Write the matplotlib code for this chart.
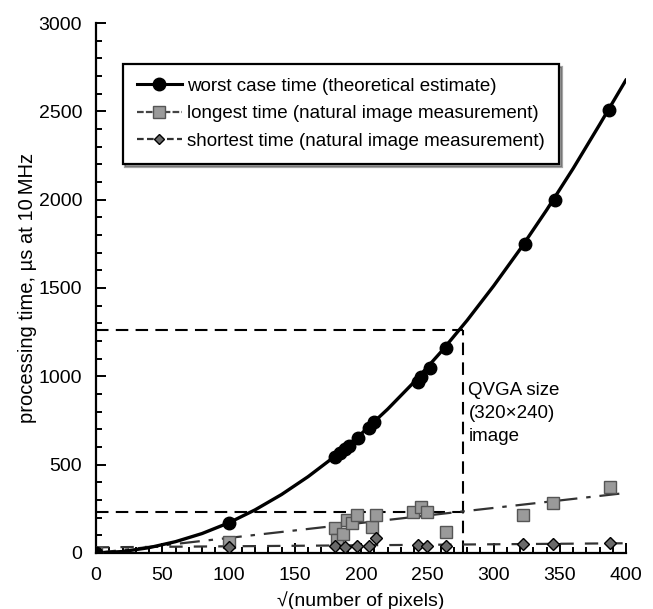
import matplotlib
matplotlib.use("Agg")
import matplotlib.pyplot as plt
from matplotlib.ticker import MultipleLocator

plt.rcParams['font.family'] = ['Liberation Sans', 'DejaVu Sans']

# worst case (theoretical estimate) curve
curve_x = [0, 20, 40, 60, 80, 100, 120, 140, 160, 180, 200, 220, 240, 260, 280, 300, 320, 340, 360, 380, 400]
curve_y = [0, 8, 30, 64, 110, 170, 244, 331, 432, 546, 674, 814, 968, 1136, 1317, 1512, 1720, 1942, 2177, 2426, 2680]

# worst case markers
worst_x = [0, 100, 180, 184, 188, 191, 198, 206, 210, 243, 245, 252, 264, 324, 346, 387]
worst_y = [0, 168, 545, 568, 590, 605, 650, 710, 740, 970, 995, 1045, 1160, 1750, 2000, 2510]

# longest time (natural image measurement)
long_x = [0, 100, 180, 182, 186, 189, 193, 197, 208, 211, 239, 245, 250, 264, 322, 345, 388]
long_y = [0, 60, 141, 74, 110, 187, 170, 215, 147, 215, 232, 260, 232, 119, 215, 283, 374]
long_trend_x = [0, 400]
long_trend_y = [0, 340]

# shortest time (natural image measurement)
short_x = [0, 100, 180, 188, 197, 206, 211, 243, 250, 264, 322, 345, 388]
short_y = [0, 35, 40, 35, 38, 40, 85, 45, 40, 40, 48, 48, 55]
short_trend_x = [0, 400]
short_trend_y = [32, 55]

# QVGA reference
qvga_x = 277
qvga_worst = 1265
qvga_long = 232

fig = plt.figure(figsize=(6.53, 6.09), dpi=100)
ax = fig.add_axes([0.147, 0.092, 0.812, 0.8702])

ax.set_xlim(0, 400)
ax.set_ylim(0, 3000)
for s in ['top', 'right']:
    ax.spines[s].set_visible(False)
for s in ['left', 'bottom']:
    ax.spines[s].set_linewidth(1.6)

# reference dashed lines
ax.plot([0, qvga_x], [qvga_worst, qvga_worst], color='black', lw=1.5, dashes=(6, 3.5), zorder=2)
ax.plot([0, qvga_x], [qvga_long, qvga_long], color='black', lw=1.5, dashes=(6, 3.5), zorder=2)
ax.plot([qvga_x, qvga_x], [0, qvga_worst], color='black', lw=1.5, dashes=(6, 3.5), zorder=2)

# trend lines
ax.plot(long_trend_x, long_trend_y, color='#333333', lw=1.6, dashes=(9, 4, 2, 4), zorder=3)
ax.plot(short_trend_x, short_trend_y, color='#333333', lw=1.6, dashes=(6, 5), zorder=3)

# worst case curve
ax.plot(curve_x, curve_y, color='black', lw=2.4, solid_capstyle='round', zorder=4)

ax.plot(long_x, long_y, ls='none', marker='s', markersize=9, markerfacecolor='#9a9a9a',
        markeredgecolor='#555555', markeredgewidth=1.0, zorder=5)
ax.plot(short_x, short_y, ls='none', marker='D', markersize=6.5, markerfacecolor='#6a6a6a',
        markeredgecolor='black', markeredgewidth=1.0, zorder=6)
ax.plot(worst_x, worst_y, ls='none', marker='o', markersize=9, markerfacecolor='black',
        markeredgecolor='black', zorder=7)

# legend handles
h1, = ax.plot([], [], color='black', lw=2.2, marker='o', markersize=9)
h2, = ax.plot([], [], color='#444444', lw=1.6, dashes=(3, 1), marker='s', markersize=8,
              markerfacecolor='#9a9a9a', markeredgecolor='#555555')
h3, = ax.plot([], [], color='#333333', lw=1.6, dashes=(3, 1.5), marker='D', markersize=5.5,
              markerfacecolor='#6a6a6a', markeredgecolor='black')
leg = ax.legend([h1, h2, h3],
                ['worst case time (theoretical estimate)',
                 'longest time (natural image measurement)',
                 'shortest time (natural image measurement)'],
                loc='upper left', bbox_to_anchor=(0.05, 0.923), fontsize=13.5,
                frameon=True, fancybox=False, shadow=True, handlelength=2.4,
                handletextpad=0.3, borderpad=0.75, labelspacing=0.55, borderaxespad=0)
leg.get_frame().set_edgecolor('black')
leg.get_frame().set_linewidth(1.6)

ax.text(281, 968, 'QVGA size\n(320\u00d7240)\nimage', fontsize=13.5, va='top', ha='left',
        linespacing=1.45)

ax.xaxis.set_major_locator(MultipleLocator(50))
ax.xaxis.set_minor_locator(MultipleLocator(10))
ax.yaxis.set_major_locator(MultipleLocator(500))
ax.yaxis.set_minor_locator(MultipleLocator(100))
ax.tick_params(which='both', direction='in', width=1.4, labelsize=14)
ax.tick_params(which='major', length=7)
ax.tick_params(which='minor', length=4)
ax.tick_params(axis='x', pad=10)
ax.tick_params(axis='y', pad=10)

ax.set_xlabel('\u221a(number of pixels)', fontsize=14, labelpad=5)
ax.set_ylabel('processing time, \u00b5s at 10\u2009MHz', fontsize=14.5, labelpad=1)

fig.savefig('out.png', dpi=100)
